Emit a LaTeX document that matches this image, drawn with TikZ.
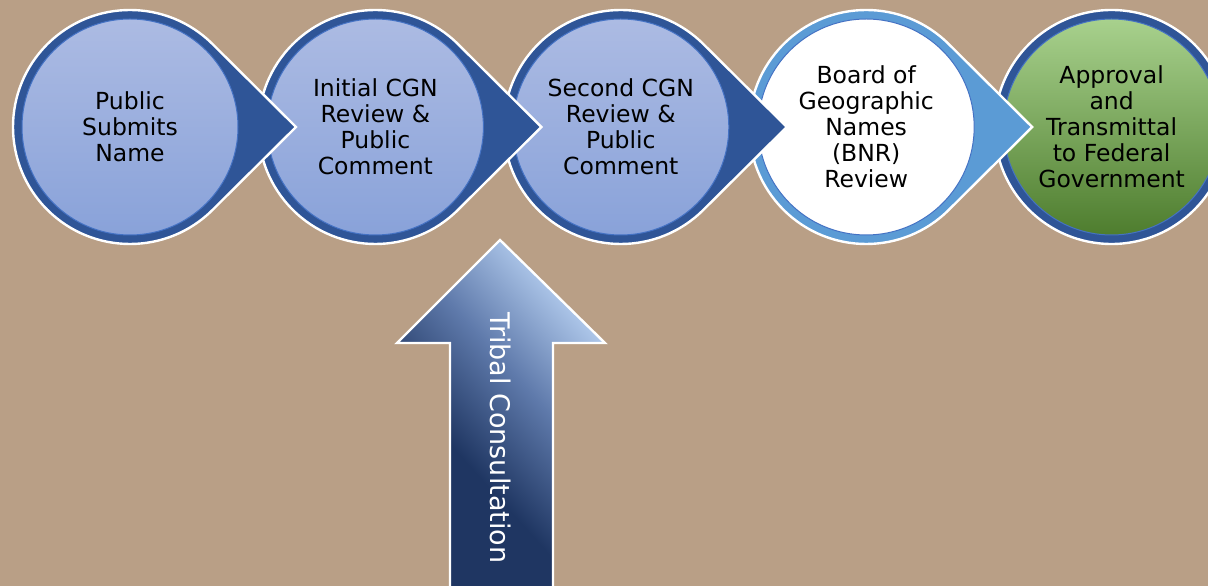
\documentclass[tikz,border=0pt]{standalone}
\usepackage{fontspec}
\setmainfont{DejaVu Sans}
\usetikzlibrary{positioning}
\usetikzlibrary{backgrounds}
\definecolor{paper}{RGB}{185,159,134}
\definecolor{ringdark}{RGB}{47,85,151}
\definecolor{ringmid}{RGB}{68,114,196}
\definecolor{ringlight}{RGB}{91,155,213}
\definecolor{bluetop}{RGB}{172,187,227}
\definecolor{bluebot}{RGB}{137,162,217}
\definecolor{greentop}{RGB}{168,209,141}
\definecolor{greenmid}{RGB}{112,173,71}
\definecolor{greenbot}{RGB}{78,125,46}
\definecolor{navy}{RGB}{31,54,98}
\definecolor{steel}{RGB}{95,122,171}
\definecolor{skyblue}{RGB}{184,209,242}
\pgfdeclareverticalshading{tribal}{100bp}{color(0bp)=(navy); color(25bp)=(navy);
  color(40bp)=(navy); color(57bp)=(steel); color(75bp)=(skyblue); color(100bp)=(skyblue)}
\tikzstyle{stage} = [circle, inner sep=0pt, minimum size=234pt, align=center,
font=\fontsize{23.5}{26}\selectfont, node distance=11pt]
\tikzstyle{blueball} = [top color=bluetop, bottom color=bluebot, draw=ringmid, line width=1pt]
\tikzstyle{whiteball} = [fill=white, draw=ringmid, line width=1pt]
\tikzstyle{greenball} = [top color=greentop, middle color=greenmid, bottom color=greenbot,
draw=ringmid, line width=1pt]
\tikzstyle{caption} = [rotate=-90, text=white, font=\fontsize{27}{27}\selectfont]
\newcommand{\drop}[3]{ %
  % Teardrop behind node #1 with its tip to the right.
  \path[fill=#2, draw=white, line width=2.4pt] (#1.center) ++(166pt,0pt)
    -- ([shift={(45:117pt)}]#1.center) arc[start angle=45, end angle=315, radius=117pt]
    -- cycle;
  \path[#3] (#1.center) circle[radius=108pt];
}

\begin{document}
\begin{tikzpicture}[x=1pt, y=1pt]
  \useasboundingbox (0,0) rectangle (1208,586);
  \node[stage] (s1) at (130,459) {Public\\Submits\\Name};
  \node[stage, right=of s1] (s2) {Initial CGN\\Review \&\\Public\\Comment};
  \node[stage, right=of s2] (s3) {Second CGN\\Review \&\\Public\\Comment};
  \node[stage, right=of s3] (s4) {Board of\\Geographic\\Names\\(BNR)\\Review};
  \node[stage, right=of s4] (s5) {Approval\\and\\Transmittal\\to Federal\\Government};

  \begin{pgfonlayer}{background}
    \clip (0,0) rectangle (1208,586);
    \fill[paper] (0,0) rectangle (1208,586);
    \path[fill=ringdark, draw=white, line width=2.4pt] (s5.center) circle[radius=117pt];
    \path[greenball] (s5.center) circle[radius=108pt];
    \drop{s4}{ringlight}{whiteball}
    \foreach \s in {s3,s2,s1} {\drop{\s}{ringdark}{blueball}}
  \end{pgfonlayer}

  % tribal consultation arrow
  \begin{scope}
    \clip (0,0) rectangle (1208,586);
    \coordinate (tip) at (500,346);
    \path[draw=white, line width=2.4pt, shading=tribal, shading angle=-48]
      (tip) -- (605,243) -- (553,243) -- (553,-10) -- (450,-10) -- (450,243)
      -- (397,243) -- cycle;
  \end{scope}
  \node[caption] (trib) at (501,148) {Tribal Consultation};
\end{tikzpicture}
\end{document}
